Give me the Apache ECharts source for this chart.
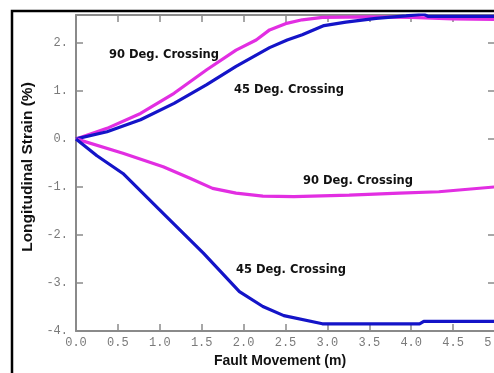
<!DOCTYPE html>
<html>
<head>
<meta charset="utf-8">
<script src="https://cdn.jsdelivr.net/npm/echarts@6/dist/echarts.min.js"></script>
<style>html,body{margin:0;padding:0;background:#fff;}#c{width:494px;height:373px;}</style>
</head>
<body>
<div id="c"></div>
<script>
// Fault movement (m) and longitudinal strain (%)
const up90X = [0, 0.37, 0.77, 1.17, 1.56, 1.91, 2.15, 2.31, 2.5, 2.7, 2.94, 3.5, 4.0, 4.5, 5.0];
const up90Y = [0, 0.22, 0.53, 0.95, 1.44, 1.85, 2.06, 2.27, 2.4, 2.48, 2.53, 2.54, 2.53, 2.5, 2.49];
const up45X = [0, 0.37, 0.77, 1.17, 1.56, 1.91, 2.31, 2.52, 2.7, 2.96, 3.22, 3.58, 3.94, 4.15, 4.2, 4.5, 5.0];
const up45Y = [0, 0.15, 0.4, 0.74, 1.13, 1.51, 1.9, 2.06, 2.17, 2.36, 2.43, 2.51, 2.56, 2.6, 2.55, 2.55, 2.55];
const lo90X = [0, 0.56, 1.04, 1.36, 1.63, 1.91, 2.23, 2.6, 3.26, 3.86, 4.33, 5.0];
const lo90Y = [0, -0.3, -0.58, -0.82, -1.03, -1.13, -1.19, -1.2, -1.17, -1.13, -1.1, -1.0];
const lo45X = [0, 0.25, 0.56, 1.04, 1.52, 1.95, 2.23, 2.48, 2.94, 3.5, 4.1, 4.15, 5.0];
const lo45Y = [0, -0.35, -0.72, -1.55, -2.38, -3.18, -3.49, -3.68, -3.85, -3.85, -3.85, -3.8, -3.8];
const labels = ['90 Deg. Crossing', '45 Deg. Crossing', '90 Deg. Crossing', '45 Deg. Crossing'];

const MAG = '#e22ee2', BLU = '#1414c8', AX = '#8a8a8a';
const pairs = (xs, ys) => xs.map((x, i) => [x, ys[i]]);

const chart = echarts.init(document.getElementById('c'), null, {renderer: 'canvas'});
const tickFont = {fontFamily: 'Liberation Mono', fontSize: 12, color: '#7a7a7a'};
const annFont = 'bold 11.5px "DejaVu Sans"';
const lineSeries = (name, data, color) => ({
  name, type: 'line', data, showSymbol: false, symbol: 'none',
  lineStyle: {color, width: 3.2}, animation: false, z: 3
});
const xBase = {
  type: 'value', min: 0, max: 5, interval: 0.5,
  axisLine: {show: true, onZero: false, lineStyle: {color: AX, width: 2}},
  axisTick: {show: true, inside: true, length: 7, lineStyle: {color: AX, width: 1.5}},
  splitLine: {show: false}
};
const yBase = {
  type: 'value', min: -4, max: 2.58, interval: 1,
  axisLine: {show: true, onZero: false, lineStyle: {color: AX, width: 2}},
  axisTick: {show: true, inside: true, length: 7, lineStyle: {color: AX, width: 1.5}},
  splitLine: {show: false}
};
chart.setOption({
  backgroundColor: '#ffffff',
  animation: false,
  grid: {left: 76, right: -1, top: 15, bottom: 42, containLabel: false, outerBoundsMode: 'none'},
  xAxis: [
    Object.assign({}, xBase, {
      position: 'bottom',
      name: 'Fault Movement (m)', nameLocation: 'middle', nameGap: 22,
      nameTextStyle: {fontFamily: 'Liberation Sans', fontWeight: 'bold', fontSize: 14, color: '#111', padding: [0, 11, 0, 0]},
      axisLabel: Object.assign({show: true, margin: 6, showMaxLabel: true, showMinLabel: true,
        formatter: v => v.toFixed(1)}, tickFont)
    }),
    Object.assign({}, xBase, {position: 'top', axisLabel: {show: false}})
  ],
  yAxis: [
    Object.assign({}, yBase, {
      position: 'left',
      name: 'Longitudinal Strain (%)', nameLocation: 'middle', nameGap: 32, nameRotate: 90,
      nameTextStyle: {fontFamily: 'Liberation Sans', fontWeight: 'bold', fontSize: 15.5, color: '#111', padding: [0, 0, 0, 12]},
      axisLabel: Object.assign({show: true, margin: 8,
        formatter: v => Number.isInteger(v) ? v + '.' : ''}, tickFont)
    }),
    Object.assign({}, yBase, {position: 'right', axisLabel: {show: false}})
  ],
  series: [
    lineSeries('90 Deg. Crossing (upper)', pairs(up90X, up90Y), MAG),
    lineSeries('45 Deg. Crossing (upper)', pairs(up45X, up45Y), BLU),
    lineSeries('90 Deg. Crossing (lower)', pairs(lo90X, lo90Y), MAG),
    lineSeries('45 Deg. Crossing (lower)', pairs(lo45X, lo45Y), BLU)
  ],
  graphic: [
    {type: 'rect', shape: {x: 12, y: 11, width: 520, height: 420}, style: {fill: 'none', stroke: '#000', lineWidth: 2.5}, z: 10, silent: true},
    {type: 'text', left: 109, top: 49, style: {text: labels[0], font: annFont, fill: '#111'}, z: 5},
    {type: 'text', left: 234, top: 84, style: {text: labels[1], font: annFont, fill: '#111'}, z: 5},
    {type: 'text', left: 303, top: 175, style: {text: labels[2], font: annFont, fill: '#111'}, z: 5},
    {type: 'text', left: 236, top: 264, style: {text: labels[3], font: annFont, fill: '#111'}, z: 5}
  ]
});
</script>
</body>
</html>
